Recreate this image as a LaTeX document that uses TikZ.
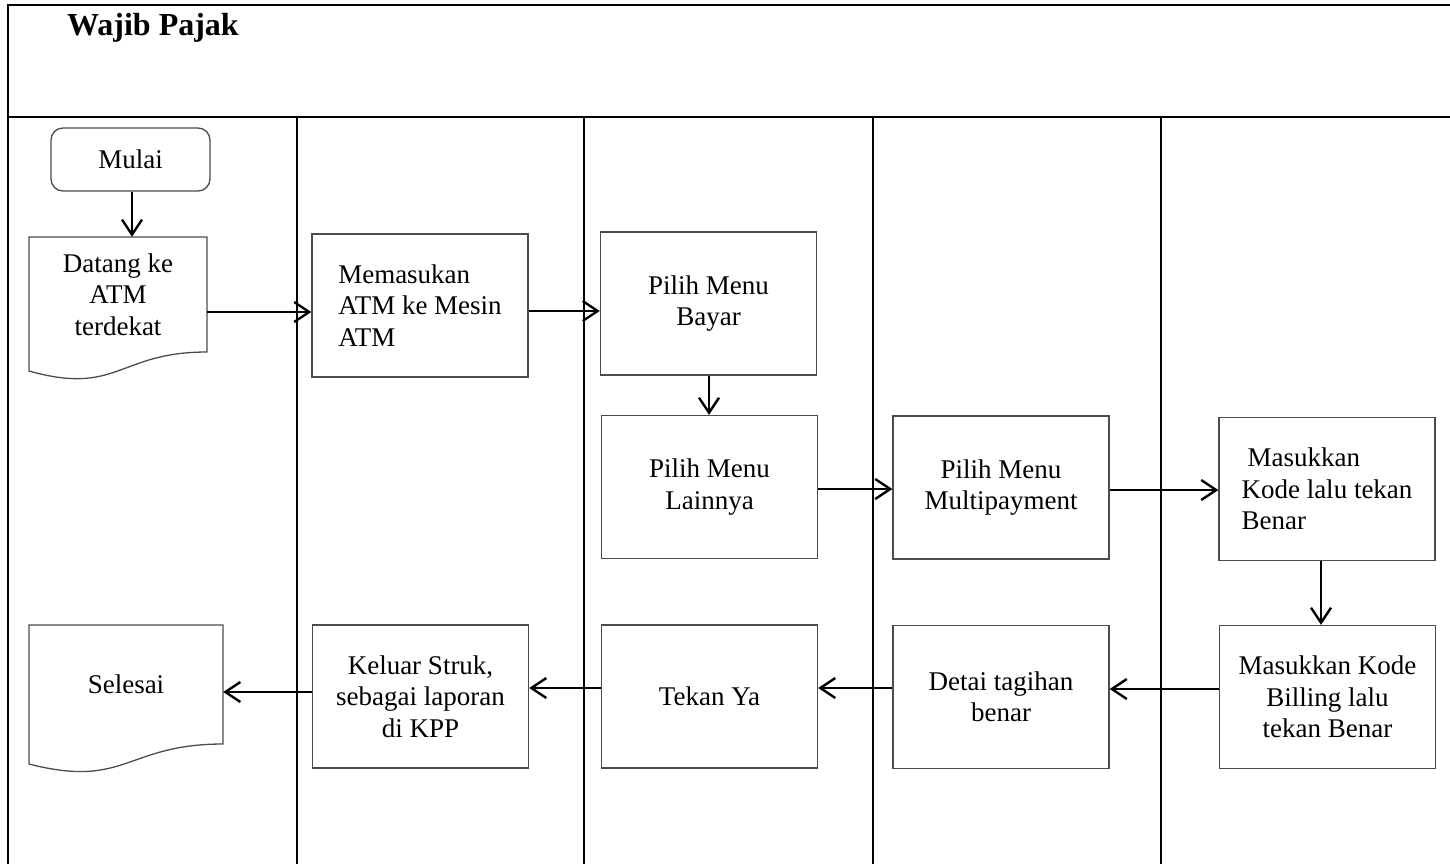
\documentclass[tikz,border=0pt]{standalone}
\usepackage{fontspec}
\setmainfont{Liberation Serif}
\usetikzlibrary{arrows.meta}
\begin{document}
\begin{tikzpicture}[x=1pt,y=-1pt,
  lane/.style={line width=2.5pt, black},
  box/.style={draw=black!70, line width=1.3pt, minimum width=216pt, minimum height=143pt, inner sep=0pt, align=center, font=\fontsize{27}{31.5}\selectfont},
  lbox/.style={box, align=left},
  docshape/.style={draw=black!70, line width=1.3pt},
  doctext/.style={inner sep=0pt, align=center, font=\fontsize{27}{31.5}\selectfont},
  arr/.style={line width=2.4pt, -{Straight Barb[length=15pt,width=20pt]}}
]
\useasboundingbox (0,0) rectangle (1450,863);
% frame and lanes
\draw[lane] (1452,5) -- (8,5) -- (8,865);
\draw[lane] (8,117) -- (1452,117);
\foreach \lx in {297,584,873,1161} \draw[lane] (\lx,117) -- (\lx,865);
\node[anchor=base west, inner sep=0pt, font=\fontsize{32}{36}\selectfont\bfseries] (title) at (67,35) {Wajib Pajak};
% nodes
\node[box, rounded corners=12pt, minimum width=159pt, minimum height=63pt] (mulai) at (130.5,159.5) {Mulai};
\node[doctext, minimum width=178pt, minimum height=115pt] (datang) at (118,294.5) {Datang ke\\ATM\\terdekat};
\draw[docshape] (29,237) -- (207,237) -- (207,352) .. controls (118,352) and (118,396) .. (29,371) -- cycle;
\node[lbox] (memasukan) at (420,305.5) {Memasukan\\ATM ke Mesin\\ATM};
\node[box] (bayar) at (708.5,303.5) {Pilih Menu\\Bayar};
\node[box] (lainnya) at (709.5,487) {Pilih Menu\\Lainnya};
\node[box] (multi) at (1001,487.5) {Pilih Menu\\Multipayment};
\node[lbox] (kode) at (1327,489) {\hspace{6pt}Masukkan\\Kode lalu tekan\\Benar};
\node[box] (billing) at (1327.5,697) {Masukkan Kode\\Billing lalu\\tekan Benar};
\node[box] (detai) at (1001,697) {Detai tagihan\\benar};
\node[box] (tekan) at (709.5,696.5) {Tekan Ya};
\node[box] (keluar) at (420.5,696.5) {Keluar Struk,\\sebagai laporan\\di KPP};
\node[doctext, minimum width=194pt, minimum height=119pt] (selesai) at (126,684.5) {Selesai};
\draw[docshape] (29,625) -- (223,625) -- (223,744) .. controls (126,744) and (126,789) .. (29,764) -- cycle;
% connectors
\draw[arr] (132,0 |- mulai.south) -- (132,0 |- datang.north);
\draw[arr] (datang.east |- 0,312) -- (memasukan.west |- 0,312);
\draw[arr] (memasukan.east |- 0,311) -- (bayar.west |- 0,311);
\draw[arr] (709,0 |- bayar.south) -- (709,0 |- lainnya.north);
\draw[arr] (lainnya.east |- 0,489) -- (multi.west |- 0,489);
\draw[arr] (multi.east |- 0,490) -- (kode.west |- 0,490);
\draw[arr] (1321,0 |- kode.south) -- (1321,0 |- billing.north);
\draw[arr] (billing.west |- 0,689) -- (detai.east |- 0,689);
\draw[arr] (detai.west |- 0,688) -- (tekan.east |- 0,688);
\draw[arr] (tekan.west |- 0,688) -- (keluar.east |- 0,688);
\draw[arr] (keluar.west |- 0,692) -- (selesai.east |- 0,692);
\end{tikzpicture}
\end{document}
